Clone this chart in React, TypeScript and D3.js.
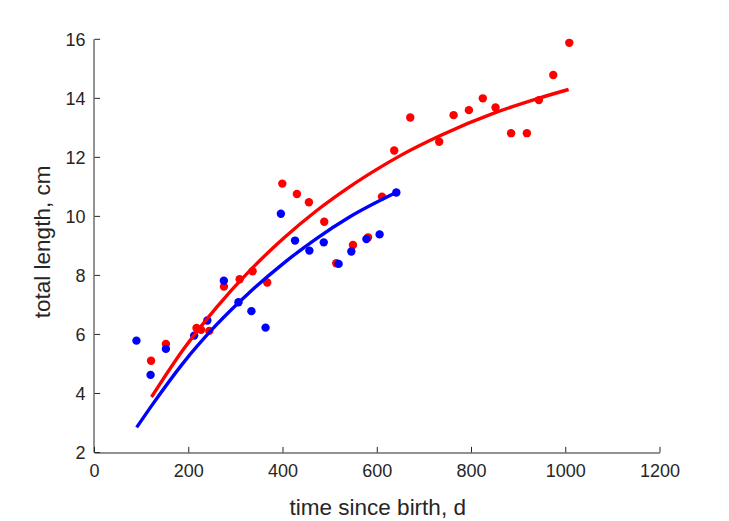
import React from "react";
import * as d3 from "d3";

// ---- data ----
const redDays = [120, 151.5, 216.5, 226, 243.5, 274.7, 308, 335.5, 366.5, 398.5, 429.5, 455, 487.5, 513, 548.5, 580.5, 610, 636, 670, 731.5, 762, 794.5, 824, 851, 884, 917.5, 943, 973.5, 1007.5];
const redLength = [5.11, 5.68, 6.22, 6.16, 6.12, 7.62, 7.87, 8.14, 7.76, 11.11, 10.76, 10.48, 9.82, 8.41, 9.03, 9.29, 10.67, 12.23, 13.35, 12.53, 13.43, 13.6, 14.0, 13.69, 12.82, 12.82, 13.94, 14.79, 15.88];

const blueDays = [89, 119, 151.5, 211.5, 239.5, 274.5, 305.5, 333, 363, 395.5, 425.5, 456, 486.5, 518, 545, 577, 605, 640.5];
const blueLength = [5.79, 4.63, 5.51, 5.96, 6.47, 7.82, 7.09, 6.79, 6.23, 10.09, 9.18, 8.84, 9.12, 8.39, 8.81, 9.23, 9.39, 10.81];

// fitted curves, sampled along the drawn lines
const redFitDays = [121, 188, 259, 330, 400, 471, 542, 606, 648, 733, 853, 942, 1006];
const redFitLength = [3.88, 5.48, 6.92, 8.17, 9.24, 10.19, 11.01, 11.66, 12.05, 12.73, 13.53, 14.0, 14.3];

const blueFitDays = [89.5, 121, 188, 259, 330, 401, 471, 542, 641];
const blueFitLength = [2.85, 3.58, 5.03, 6.33, 7.44, 8.41, 9.25, 9.99, 10.82];

const xTicks = [0, 200, 400, 600, 800, 1000, 1200];
const yTicks = [2, 4, 6, 8, 10, 12, 14, 16];

const xLabel = "time since birth, d";
const yLabel = "total length, cm";

const W = 729;
const H = 521;
const FONT = "'Liberation Sans', Arial, Helvetica, sans-serif";
const AXIS = "#262626";

export default function App() {
  const x = d3.scaleLinear().domain([0, 1200]).range([94.5, 660]);
  const y = d3.scaleLinear().domain([2, 16]).range([452.5, 39.3]);

  const line = d3
    .line<[number, number]>()
    .x((d) => x(d[0]))
    .y((d) => y(d[1]))
    .curve(d3.curveMonotoneX);

  const redFit = line(redFitDays.map((d, i) => [d, redFitLength[i]] as [number, number])) || "";
  const blueFit = line(blueFitDays.map((d, i) => [d, blueFitLength[i]] as [number, number])) || "";

  const [x0, x1] = x.range();
  const [y0, y1] = y.range();
  const tickLen = 5.6;

  return (
    <svg
      width={W}
      height={H}
      style={{ position: "absolute", left: 0, top: 0, background: "#fff" }}
      fontFamily={FONT}
    >
      <rect x={0} y={0} width={W} height={H} fill="#fff" />

      {/* scatter points */}
      <g fill="#ff0000">
        {redDays.map((d, i) => (
          <circle key={"r" + i} cx={x(d)} cy={y(redLength[i])} r={4.2} />
        ))}
      </g>
      <g fill="#0000ff">
        {blueDays.map((d, i) => (
          <circle key={"b" + i} cx={x(d)} cy={y(blueLength[i])} r={4.2} />
        ))}
      </g>

      {/* fitted curves */}
      <path d={redFit} fill="none" stroke="#ff0000" strokeWidth={3.4} />
      <path d={blueFit} fill="none" stroke="#0000ff" strokeWidth={3.4} />

      {/* axes */}
      <g stroke={AXIS} strokeWidth={1} fill="none">
        <line x1={x0} y1={y0 + 0.5} x2={x1} y2={y0 + 0.5} />
        <line x1={x0 - 0.5} y1={y0} x2={x0 - 0.5} y2={y1} />
        {xTicks.map((t) => (
          <line key={"xt" + t} x1={x(t)} x2={x(t)} y1={y0} y2={y0 - tickLen} />
        ))}
        {yTicks.map((t) => (
          <line key={"yt" + t} x1={x0} x2={x0 + tickLen} y1={y(t)} y2={y(t)} />
        ))}
      </g>

      <g fill={AXIS} fontSize={18}>
        {xTicks.map((t) => (
          <text key={"xl" + t} x={x(t)} y={y0 + 24.5} textAnchor="middle">
            {t}
          </text>
        ))}
        {yTicks.map((t) => (
          <text key={"yl" + t} x={x0 - 9} y={y(t) + 6.5} textAnchor="end">
            {t}
          </text>
        ))}
      </g>

      <text x={(x0 + x1) / 2 + 0.5} y={515} textAnchor="middle" fill={AXIS} fontSize={22.5}>
        {xLabel}
      </text>
      <text
        transform={`translate(50, ${(y0 + y1) / 2 - 4}) rotate(-90)`}
        textAnchor="middle"
        fill={AXIS}
        fontSize={22.5}
      >
        {yLabel}
      </text>
    </svg>
  );
}
